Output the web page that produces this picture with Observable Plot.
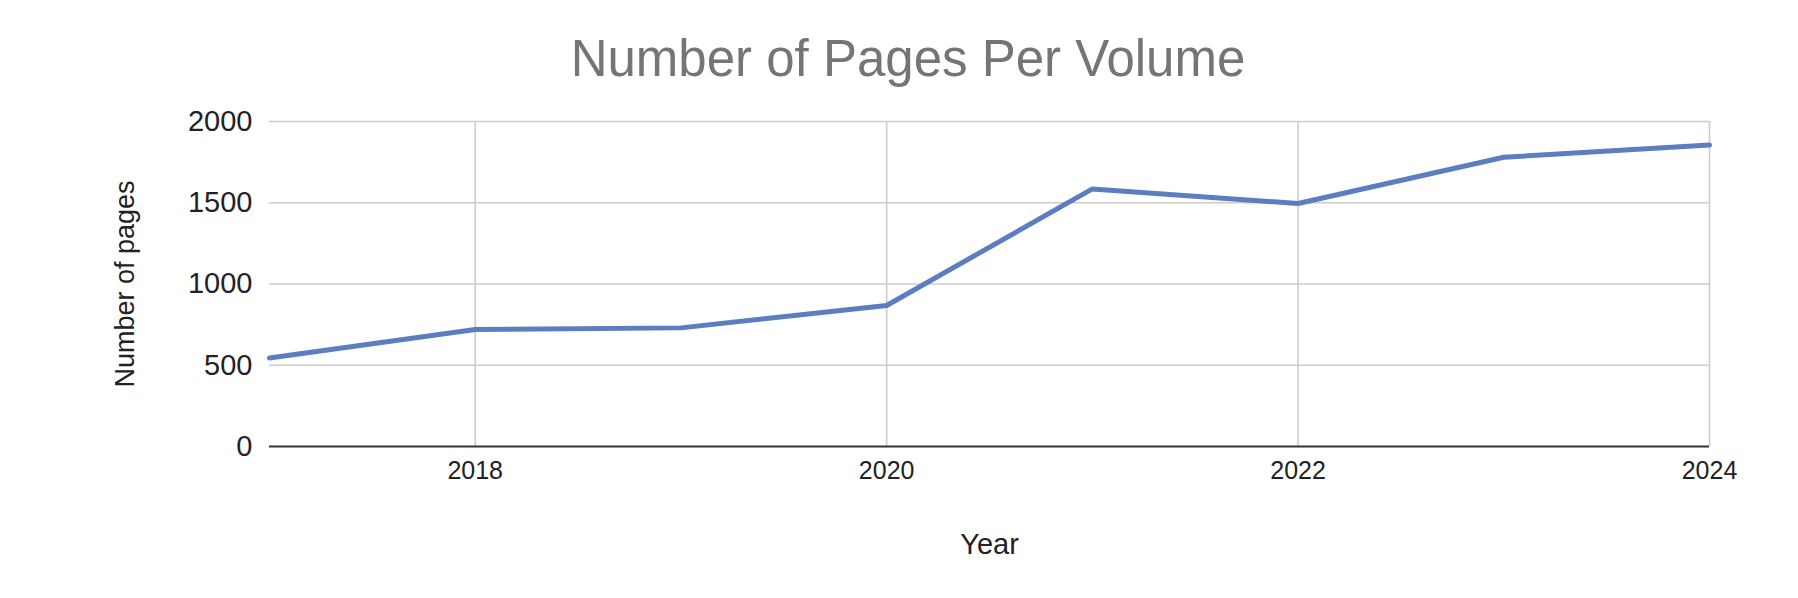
<!DOCTYPE html>
<html>
<head>
<meta charset="utf-8">
<script src="https://cdn.jsdelivr.net/npm/d3@7"></script>
<script src="https://cdn.jsdelivr.net/npm/@observablehq/plot@0.6"></script>
<style>
  html, body { margin: 0; padding: 0; background: #fff; }
  #title {
    box-sizing: border-box; height: 100px; padding-top: 17px; line-height: 84px;
    padding-left: 18px; text-align: center; font-family: "Liberation Sans", Arial, sans-serif;
    font-size: 51px; color: #757575; white-space: nowrap;
  }
  #chart svg { display: block; }
</style>
</head>
<body>
<div id="title">Number of Pages Per Volume</div>
<div id="chart"></div>
<script>
const years = [2017, 2018, 2019, 2020, 2021, 2022, 2023, 2024];
const pages = [545, 720, 730, 868, 1585, 1495, 1780, 1855];
const xTicks = [2018, 2020, 2022, 2024];
const yTicks = [0, 500, 1000, 1500, 2000];
const xLabel = "Year";
const yLabel = "Number of pages";

const data = years.map((y, i) => ({year: y, pages: pages[i]}));

const chart = Plot.plot({
  width: 1798,
  height: 498,
  marginLeft: 269,
  marginRight: 89,
  marginTop: 21,
  marginBottom: 152,
  style: {fontFamily: "'Liberation Sans', Arial, sans-serif", background: "#fff", color: "#222"},
  x: {domain: [2017, 2024], label: null},
  y: {domain: [0, 2000], label: null},
  marks: [
    Plot.gridY(yTicks.filter(d => d > 0), {stroke: "#cccccc", strokeOpacity: 1, strokeWidth: 1.6}),
    Plot.gridX(xTicks, {stroke: "#cccccc", strokeOpacity: 1, strokeWidth: 1.6}),
    Plot.axisY(yTicks, {tickSize: 0, tickPadding: 17, fontSize: 29, fill: "#222", tickFormat: d => String(d), label: null}),
    Plot.axisX(xTicks, {tickSize: 0, tickPadding: 15, fontSize: 25, fill: "#222", tickFormat: d => String(d), label: null}),
    Plot.ruleY([0], {stroke: "#333333", strokeWidth: 2.2}),
    Plot.line(data, {x: "year", y: "pages", stroke: "#5a7ec0", strokeWidth: 5, strokeLinejoin: "round"}),
    Plot.text([yLabel], {frameAnchor: "left", dx: -144, rotate: -90, fontSize: 27, fill: "#222", lineAnchor: "middle", textAnchor: "middle"}),
    Plot.text([xLabel], {frameAnchor: "bottom", dy: 98, fontSize: 29, fill: "#222", lineAnchor: "middle", textAnchor: "middle"})
  ]
});
document.getElementById("chart").appendChild(chart);
</script>
</body>
</html>
